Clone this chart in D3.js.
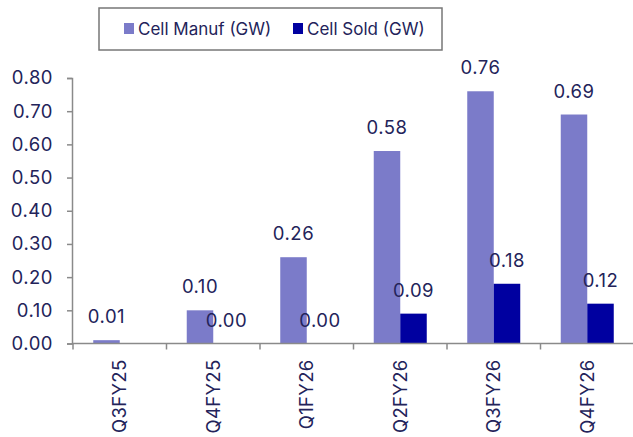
<!DOCTYPE html>
<html>
<head>
<meta charset="utf-8">
<script src="https://cdn.jsdelivr.net/npm/d3@7"></script>
<style>
  html, body { margin: 0; padding: 0; background: #fff; }
  svg { display: block; }
  text { font-family: Inter, "Open Sans", sans-serif; fill: #23235a; }
</style>
</head>
<body>
<svg id="chart" width="633" height="437"></svg>
<script>
// Quarterly cell production vs. cells sold (GW)
const categories = ["Q3FY25", "Q4FY25", "Q1FY26", "Q2FY26", "Q3FY26", "Q4FY26"];
const cellManuf = [0.01, 0.10, 0.26, 0.58, 0.76, 0.69];
const cellSold  = [null, 0.00, 0.00, 0.09, 0.18, 0.12];
const seriesNames = ["Cell Manuf (GW)", "Cell Sold (GW)"];
const seriesColors = ["#7b7bc9", "#0000a0"];
const yTicks = [0, 0.1, 0.2, 0.3, 0.4, 0.5, 0.6, 0.7, 0.8];

const svg = d3.select("#chart");
const axisColor = "#8a8a8a";
const fontSize = 18.5;
const fontFamily = "Inter, Open Sans, sans-serif";
const textColor = "#23235a";

const x = d3.scaleBand().domain(categories).range([73, 634]).paddingInner(0).paddingOuter(0);
const xs = d3.scaleBand().domain([0, 1]).range([0, x.bandwidth()]).paddingInner(0).paddingOuter(0.764);
const y = d3.scaleLinear().domain([0, 0.8]).range([343.5, 78]);

const series = [cellManuf, cellSold];

// bars
series.forEach((vals, si) => {
  const data = categories.map((c, i) => ({ c, v: vals[i] })).filter(d => d.v !== null);
  svg.append("g").selectAll("rect").data(data).join("rect")
    .attr("x", d => x(d.c) + xs(si))
    .attr("y", d => y(d.v))
    .attr("width", xs.bandwidth())
    .attr("height", d => y(0) - y(d.v))
    .attr("fill", seriesColors[si]);
});

// value labels
series.forEach((vals, si) => {
  const data = categories.map((c, i) => ({ c, v: vals[i] })).filter(d => d.v !== null);
  svg.append("g").selectAll("text").data(data).join("text")
    .attr("x", d => x(d.c) + xs(si) + xs.bandwidth() / 2)
    .attr("y", d => y(d.v) - 17)
    .attr("text-anchor", "middle")
    .attr("font-size", fontSize)
    .attr("letter-spacing", 0.5)
    .text(d => d.v.toFixed(2));
});

// y axis
const yAxis = svg.append("g").attr("transform", "translate(72,0)")
  .call(d3.axisLeft(y).tickValues(yTicks).tickFormat(d3.format(".2f")).tickSize(5).tickPadding(14));
yAxis.select(".domain").attr("stroke", axisColor).attr("stroke-width", 1.5);
yAxis.selectAll(".tick line").attr("stroke", axisColor).attr("stroke-width", 1.5);
yAxis.selectAll(".tick text").attr("font-size", fontSize).attr("letter-spacing", 0.5)
  .attr("fill", textColor).attr("font-family", fontFamily);

// x axis with ticks at category boundaries
const xAxisG = svg.append("g").attr("transform", `translate(0,${y(0)})`);
xAxisG.append("line").attr("x1", 72).attr("x2", 633).attr("y1", 0).attr("y2", 0)
  .attr("stroke", axisColor).attr("stroke-width", 1.5);
const bounds = categories.map(c => x(c)).concat([x.range()[1]]);
xAxisG.selectAll("line.tk").data(bounds).join("line").attr("class", "tk")
  .attr("x1", d => d).attr("x2", d => d).attr("y1", 0).attr("y2", 6)
  .attr("stroke", axisColor).attr("stroke-width", 1.5);
xAxisG.selectAll("text").data(categories).join("text")
  .attr("transform", d => `translate(${x(d) + x.bandwidth() / 2 + 6.5},16) rotate(-90)`)
  .attr("text-anchor", "end")
  .attr("font-size", fontSize)
  .attr("letter-spacing", 0.3)
  .text(d => d);

// legend
const lg = svg.append("g");
lg.append("rect").attr("x", 99).attr("y", 8).attr("width", 343).attr("height", 42)
  .attr("fill", "#fff").attr("stroke", "#777").attr("stroke-width", 1.5);
const legendX = [124, 293];
seriesNames.forEach((n, i) => {
  lg.append("rect").attr("x", legendX[i]).attr("y", 23).attr("width", 10).attr("height", 11)
    .attr("fill", seriesColors[i]);
  lg.append("text").attr("x", legendX[i] + 14).attr("y", 35).attr("font-size", 17)
    .text(n);
});
</script>
</body>
</html>
